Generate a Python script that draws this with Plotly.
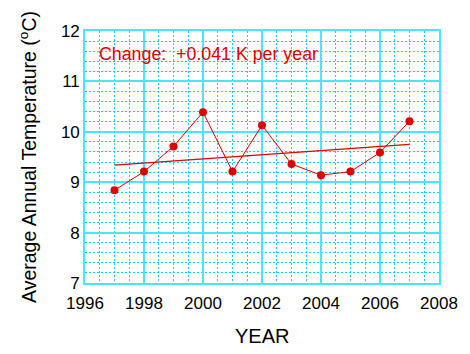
import numpy as np
import plotly.graph_objects as go

years = [1997, 1998, 1999, 2000, 2001, 2002, 2003, 2004, 2005, 2006, 2007]
temps = [8.84, 9.21, 9.71, 10.39, 9.21, 10.13, 9.36, 9.14, 9.21, 9.59, 10.21]
x_ticks = [1996, 1998, 2000, 2002, 2004, 2006, 2008]
y_ticks = [7, 8, 9, 10, 11, 12]

slope, intercept = np.polyfit(years, temps, 1)
trend_x = [years[0], years[-1]]
trend_y = [slope * x + intercept for x in trend_x]

RED = "#e00000"
GRID = "#48e6ff"
MINOR = "#10d4ff"
FONT = "Liberation Sans, Arial, sans-serif"

fig = go.Figure()
fig.add_trace(go.Scatter(x=trend_x, y=trend_y, mode="lines",
                         line=dict(color=RED, width=1.3), hoverinfo="skip"))
fig.add_trace(go.Scatter(x=years, y=temps, mode="lines+markers",
                         line=dict(color=RED, width=1),
                         marker=dict(color=RED, size=8, symbol="circle",
                                     line=dict(width=0))))

fig.update_layout(
    width=470, height=354,
    margin=dict(l=85, r=25, t=31, b=71),
    paper_bgcolor="white", plot_bgcolor="white",
    showlegend=False,
    font=dict(family=FONT, color="black"),
    xaxis=dict(range=[1996, 2008], tickvals=x_ticks, ticktext=[str(v) for v in x_ticks],
               showgrid=True, gridcolor=GRID, gridwidth=1.6, zeroline=False,
               showline=True, mirror=True, linecolor=GRID, linewidth=1.6,
               ticks="", tickfont=dict(size=17), ticklabelstandoff=4,
               minor=dict(dtick=0.5, tick0=1996, showgrid=True, gridcolor=MINOR,
                          gridwidth=1, griddash="2px,2px")),
    yaxis=dict(range=[7, 12], tickvals=y_ticks, ticktext=[str(v) for v in y_ticks],
               showgrid=True, gridcolor=GRID, gridwidth=1.6, zeroline=False,
               showline=True, mirror=True, linecolor=GRID, linewidth=1.6,
               ticks="", tickfont=dict(size=17),
               minor=dict(dtick=0.2, tick0=7, showgrid=True, gridcolor=MINOR,
                          gridwidth=1, griddash="2px,2px")),
    annotations=[
        dict(text="Change:&nbsp; %+.3f K per year" % slope, x=1996.4, y=11.54,
             xref="x", yref="y", xanchor="left", yanchor="middle", showarrow=False,
             font=dict(size=17.8, color=RED, family=FONT)),
        dict(text="Average Annual Temperature (<sup>o</sup>C)", x=-58/360, y=0.5,
             xref="paper", yref="paper", textangle=-90, xanchor="center",
             yanchor="middle", showarrow=False, font=dict(size=19.5, color="black")),
        dict(text="YEAR", x=0.5, y=-53/252, xref="paper", yref="paper",
             xanchor="center", yanchor="middle", showarrow=False,
             font=dict(size=20, color="black")),
    ],
)

fig.write_html("out.html")
